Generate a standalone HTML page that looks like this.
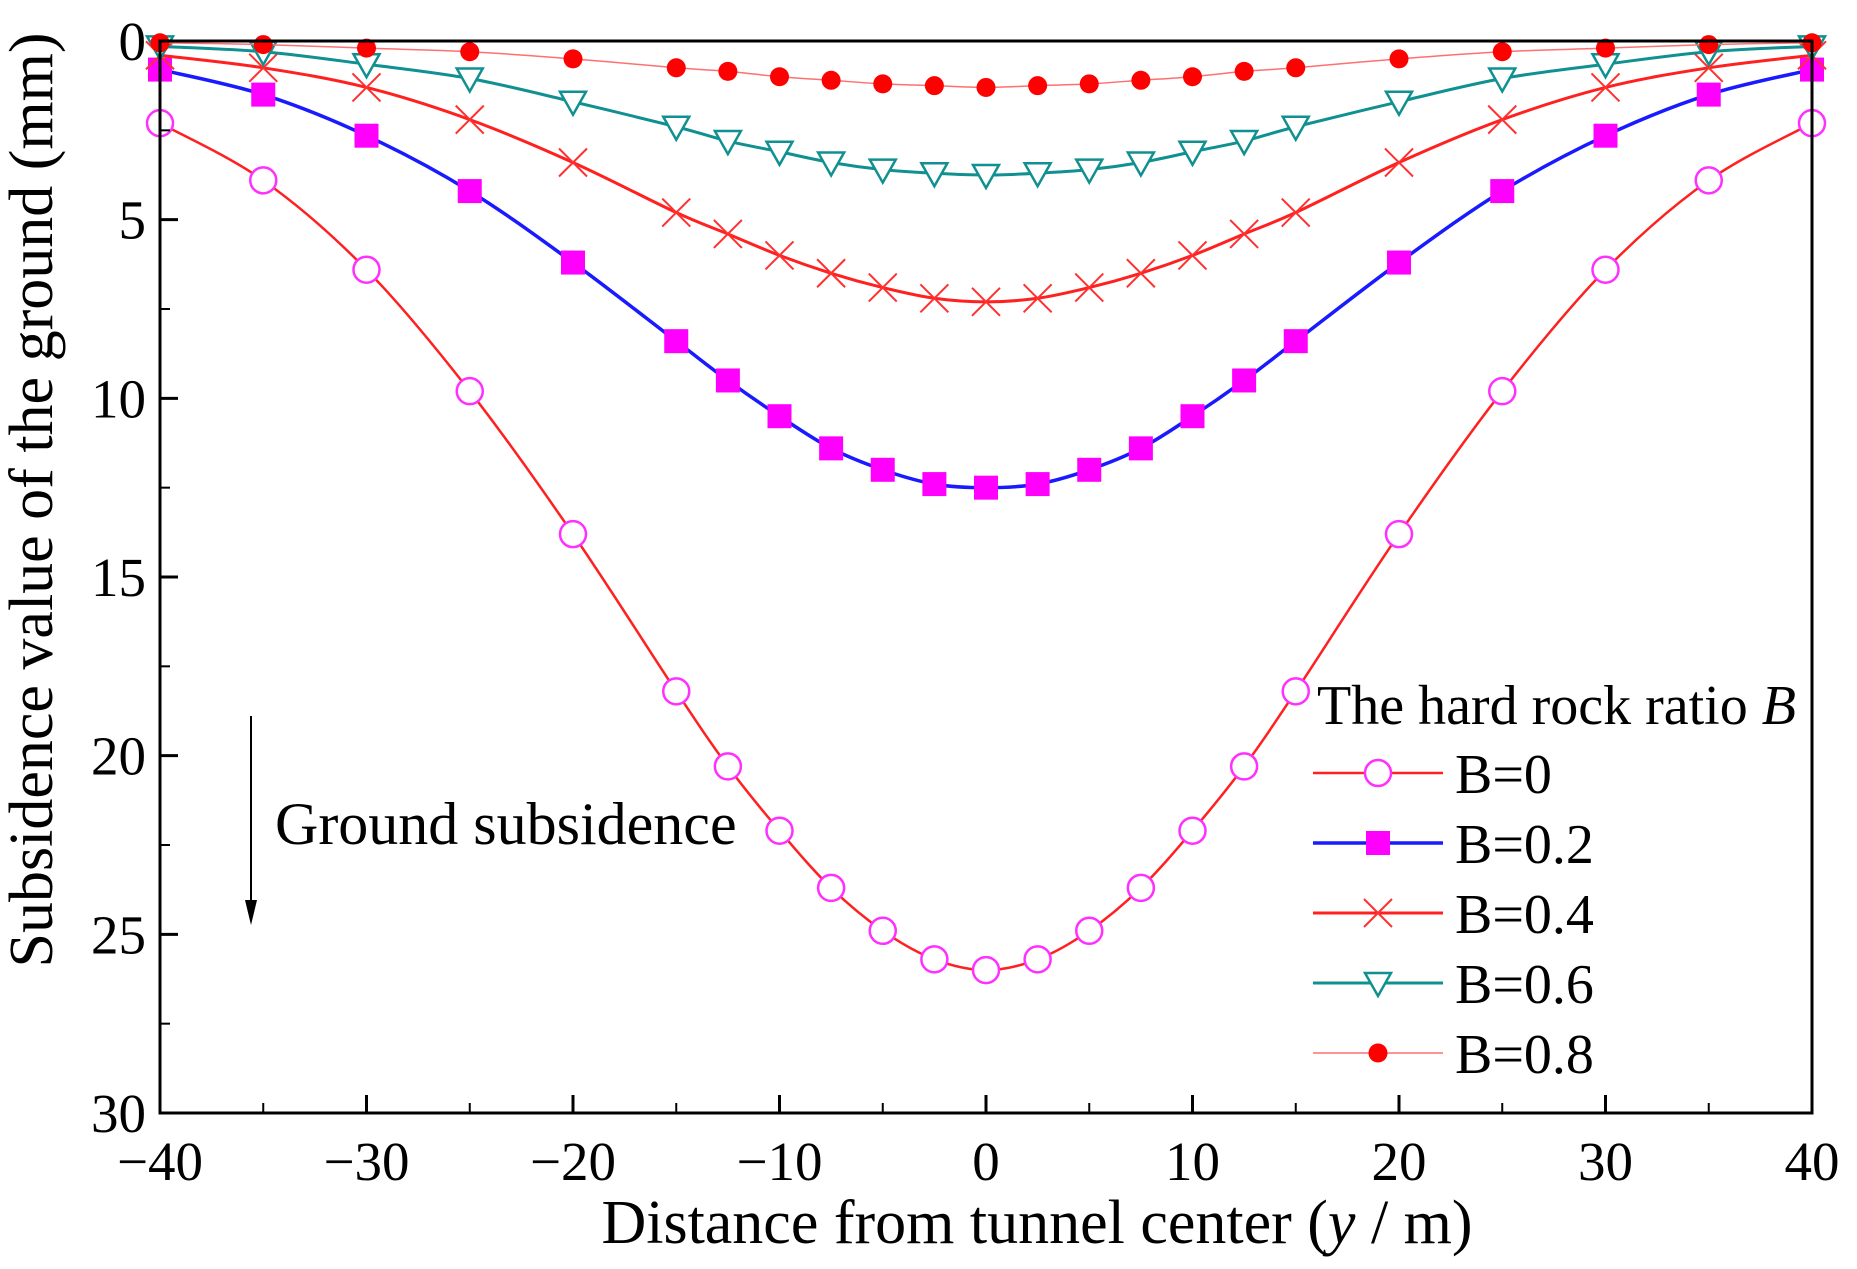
<!DOCTYPE html>
<html><head><meta charset="utf-8"><style>
html,body{margin:0;padding:0;background:#fff}
svg text{font-family:"Liberation Serif",serif;fill:#000}
</style></head><body>
<svg id="chart" width="1857" height="1264" xmlns="http://www.w3.org/2000/svg">
<g id="plot"></g>
</svg>
<script>
const xs = [-40,-35,-30,-25,-20,-15,-12.5,-10,-7.5,-5,-2.5,0,2.5,5,7.5,10,12.5,15,20,25,30,35,40];
const half0 = [2.3,3.9,6.4,9.8,13.8,18.2,20.3,22.1,23.7,24.9,25.7,26.0];
const half02 = [0.8,1.5,2.65,4.2,6.2,8.4,9.5,10.5,11.4,12.0,12.4,12.5];
const half04 = [0.4,0.75,1.3,2.2,3.4,4.8,5.4,6.0,6.5,6.9,7.2,7.3];
const half06 = [0.15,0.3,0.65,1.05,1.7,2.4,2.8,3.1,3.4,3.6,3.7,3.75];
const half08 = [0.05,0.1,0.2,0.3,0.5,0.75,0.85,1.0,1.1,1.2,1.25,1.3];
const xTicks = [-40,-30,-20,-10,0,10,20,30,40];
const xTickLabels = ["\u221240","\u221230","\u221220","\u221210","0","10","20","30","40"];
const yTicks = [0,5,10,15,20,25,30];
const seriesNames = ["B=0","B=0.2","B=0.4","B=0.6","B=0.8"];

function mirror(h){return h.concat(h.slice(0,-1).reverse());}
const series=[mirror(half0),mirror(half02),mirror(half04),mirror(half06),mirror(half08)];
const L=160,R=1812,T=41,B=1113;
const sx=v=>L+(v+40)/80*(R-L);
const sy=v=>T+v/30*(B-T);
const NS="http://www.w3.org/2000/svg";
const svg=document.getElementById('chart');
function el(tag,attrs,parent){const e=document.createElementNS(NS,tag);for(const k in attrs)e.setAttribute(k,attrs[k]);(parent||svg).appendChild(e);return e;}
const styles=[
 {color:'#ff2020',w:2.5,m:'circle'},
 {color:'#1a1aff',w:3.5,m:'square'},
 {color:'#ff2020',w:3,m:'cross'},
 {color:'#109090',w:3,m:'tri'},
 {color:'#ff7070',w:1.5,m:'dot'}];
function marker(type,x,y,g){
 let e;
 if(type==='circle')e=el('circle',{cx:x,cy:y,r:13,fill:'#fff',stroke:'#ff30ff','stroke-width':2.5},g);
 else if(type==='square')e=el('rect',{x:x-12,y:y-12,width:24,height:24,fill:'#ff00ff'},g);
 else if(type==='cross')e=el('path',{d:`M${x-14},${y-14}L${x+14},${y+14}M${x-14},${y+14}L${x+14},${y-14}`,stroke:'#ff3030','stroke-width':2,fill:'none'},g);
 else if(type==='tri')e=el('path',{d:`M${x-13},${y-10}L${x+13},${y-10}L${x},${y+13}Z`,fill:'#fff',stroke:'#109090','stroke-width':2.5},g);
 else e=el('circle',{cx:x,cy:y,r:9.5,fill:'#ff0000'},g);
 
 
 return e;
}
function smoothPath(pts){
 let d=`M${pts[0][0]},${pts[0][1]}`;
 for(let i=0;i<pts.length-1;i++){
  const p0=pts[Math.max(0,i-1)],p1=pts[i],p2=pts[i+1],p3=pts[Math.min(pts.length-1,i+2)];
  const c1=[p1[0]+(p2[0]-p0[0])/6,p1[1]+(p2[1]-p0[1])/6];
  const c2=[p2[0]-(p3[0]-p1[0])/6,p2[1]-(p3[1]-p1[1])/6];
  d+=`C${c1[0]},${c1[1]} ${c2[0]},${c2[1]} ${p2[0]},${p2[1]}`;
 }
 return d;
}
const plot=document.getElementById('plot');
const z=el('line',{x1:L,y1:sy(0),x2:R,y2:sy(0),stroke:'#000','stroke-width':2,'stroke-dasharray':'6,4'},plot);


series.forEach((s,k)=>{
 const g=el('g',{},plot);
 
 
 const pts=s.map((v,i)=>[sx(xs[i]),sy(v)]);
 const p=el('path',{d:smoothPath(pts),fill:'none',stroke:styles[k].color,'stroke-width':styles[k].w},g);
 
 
 pts.forEach(q=>marker(styles[k].m,q[0],q[1],g));
});
const fr=el('rect',{x:L,y:T,width:R-L,height:B-T,fill:'none',stroke:'#000','stroke-width':3});


xTicks.forEach((t,i)=>{
 const x=sx(t);
 const tk=el('line',{x1:x,y1:B,x2:x,y2:B-18,stroke:'#000','stroke-width':3});
 
 
 if(i<xTicks.length-1){const m=el('line',{x1:sx(t+5),y1:B,x2:sx(t+5),y2:B-10,stroke:'#000','stroke-width':2});
 
 }
 const tx=el('text',{x:x,y:B+67,'text-anchor':'middle','font-size':55});
 tx.textContent=xTickLabels[i];
 
 
});
yTicks.forEach((t,i)=>{
 const y=sy(t);
 const tk=el('line',{x1:L,y1:y,x2:L+18,y2:y,stroke:'#000','stroke-width':3});
 
 
 if(i<yTicks.length-1){const m=el('line',{x1:L,y1:sy(t+2.5),x2:L+10,y2:sy(t+2.5),stroke:'#000','stroke-width':2});
 
 }
 const tx=el('text',{x:L-14,y:y+19,'text-anchor':'end','font-size':55});
 tx.textContent=String(t);
 
 
});
const xt=el('text',{x:1037,y:1243,'text-anchor':'middle','font-size':62});
xt.innerHTML='Distance from tunnel center (<tspan font-style="italic">y</tspan> / m)';


const yt=el('text',{x:0,y:0,'text-anchor':'middle','font-size':62,transform:'translate(52,500) rotate(-90)'});
yt.textContent='Subsidence value of the ground (mm)';


const ar=el('line',{x1:251,y1:716,x2:251,y2:905,stroke:'#000','stroke-width':2});


const ah=el('path',{d:'M245,900L257,900L251,925Z',fill:'#000'});


const at=el('text',{x:275,y:844,'font-size':60});
at.textContent='Ground subsidence';


const lg=el('g',{});


const lt=el('text',{x:1317,y:724,'font-size':56},lg);
lt.innerHTML='The hard rock ratio <tspan font-style="italic">B</tspan>';


seriesNames.forEach((n,k)=>{
 const y=773+k*70;
 const g=el('g',{},lg);
 
 
 const l=el('line',{x1:1313,y1:y,x2:1443,y2:y,stroke:styles[k].color,'stroke-width':styles[k].w},g);
 
 
 marker(styles[k].m,1378,y,g);
 const t=el('text',{x:1455,y:y+20,'font-size':56},g);
 t.textContent=n;
 
 
});
</script>
</body></html>
